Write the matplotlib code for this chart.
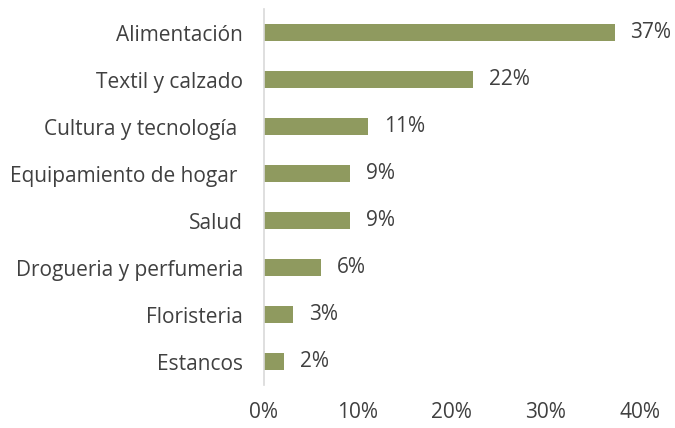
import numpy as np
import matplotlib.pyplot as plt
from matplotlib.ticker import PercentFormatter

categories = ["Alimentación", "Textil y calzado", "Cultura y tecnología ", "Equipamiento de hogar ",
              "Salud", "Drogueria y perfumeria", "Floristeria", "Estancos"]
values = [0.373, 0.222, 0.111, 0.092, 0.092, 0.061, 0.031, 0.021]
xticks = [0, 0.1, 0.2, 0.3, 0.4]

plt.rcParams['font.family'] = ['Open Sans', 'DejaVu Sans']
txt = '#404040'
fs = 15

fig = plt.figure(figsize=(6.75, 4.28), dpi=100)
ax = fig.add_axes([0.391, 0.100, 0.557, 0.879])

y = np.arange(len(categories))[::-1]
ax.barh(y, values, height=0.36, color='#8F9A5F')
for yi, v in zip(y, values):
    ax.text(v + 0.017, yi, f"{v*100:.0f}%", va='center', ha='left', fontsize=fs, color=txt)

ax.set_yticks(y)
ax.set_yticklabels(categories, fontsize=fs, color=txt)
ax.set_ylim(-0.5, len(categories) - 0.5)
ax.set_xlim(0, 0.4)
ax.set_xticks(xticks)
ax.xaxis.set_major_formatter(PercentFormatter(1.0, decimals=0))
ax.tick_params(axis='x', labelsize=fs, colors=txt, length=0, pad=12)
ax.tick_params(axis='y', length=0, pad=15)
for s in ['top', 'right', 'bottom']:
    ax.spines[s].set_visible(False)
ax.spines['left'].set_color('#D9D9D9')
ax.spines['left'].set_linewidth(1.2)

fig.savefig('out.png', dpi=100)
